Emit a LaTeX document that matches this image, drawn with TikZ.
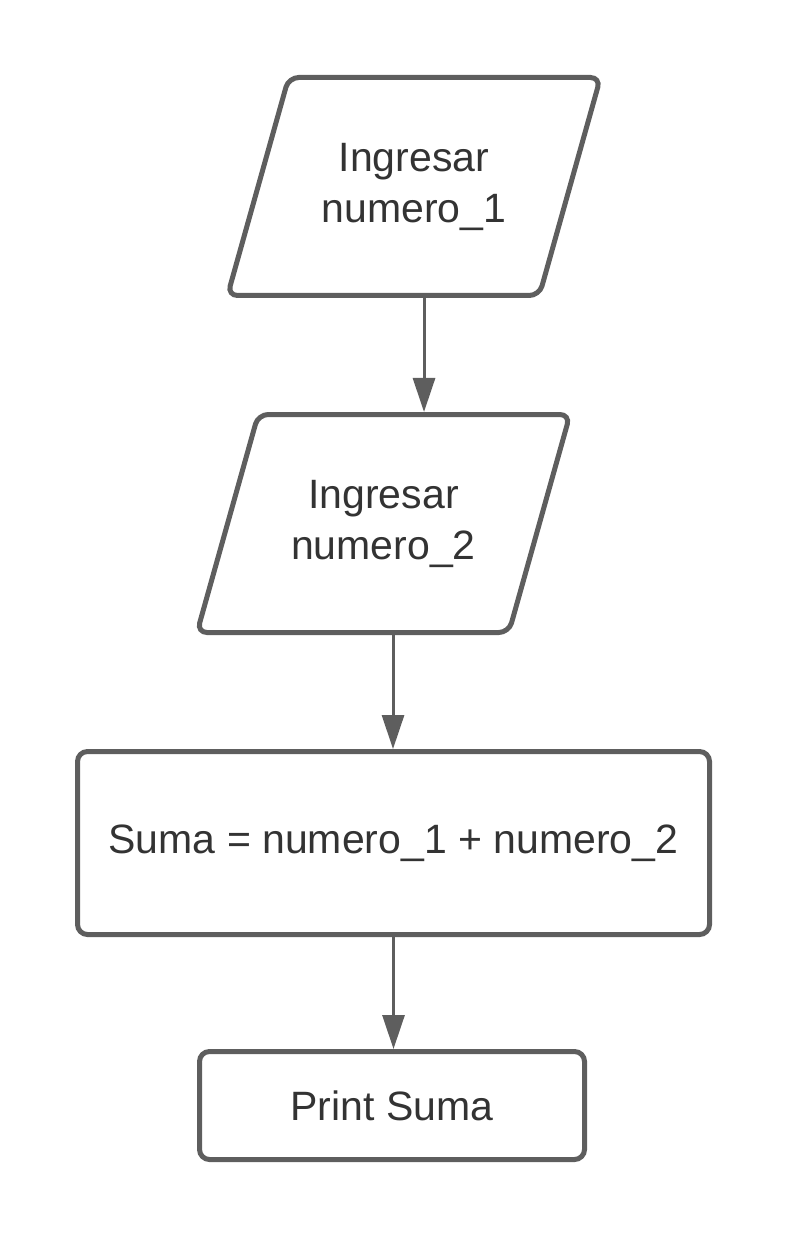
\documentclass[tikz,border=0pt]{standalone}
\usepackage{fontspec}
\setmainfont{Liberation Sans}
\usetikzlibrary{arrows.meta, positioning, shapes.geometric}
\definecolor{linegray}{RGB}{94, 94, 94}
\definecolor{textgray}{RGB}{51, 51, 51}

\begin{document}
\begin{tikzpicture}[
  x=1pt, y=-1pt,
  every node/.style={font=\fontsize{41}{51}\selectfont, text=textgray},
  inbox/.style={draw=linegray, line width=5pt, rounded corners=10pt,
                trapezium, trapezium left angle=55, trapezium right angle=125,
                trapezium stretches body, minimum width=373pt,
                minimum height=218pt, align=center, inner sep=0pt},
  procbox/.style={draw=linegray, line width=5pt, rounded corners=10pt,
                  rectangle, align=center, inner sep=0pt},
  arr/.style={-{Triangle[length=34pt, width=22pt]}, linegray, line width=3pt}
]
  \useasboundingbox (0,0) rectangle (788,1238);
  \node[inbox] (in1) at (414,186.5) {Ingresar\\numero\_1};
  \node[inbox] (in2) at (383.5,523.5) {Ingresar\\numero\_2};
  \node[procbox, minimum width=632pt, minimum height=183pt] (suma)
    at (393.5,843) {Suma = numero\_1 + numero\_2};
  \node[procbox, minimum width=385pt, minimum height=108pt] (out)
    at (392,1105.5) {Print Suma};
  \draw[arr] ([xshift=10pt]in1.south) -- ([xshift=10pt]in1.south |- in2.north);
  \draw[arr] ([xshift=9.5pt]in2.south) -- ([xshift=9.5pt]in2.south |- suma.north);
  \draw[arr] (suma.south) -- (suma.south |- out.north);
\end{tikzpicture}
\end{document}
